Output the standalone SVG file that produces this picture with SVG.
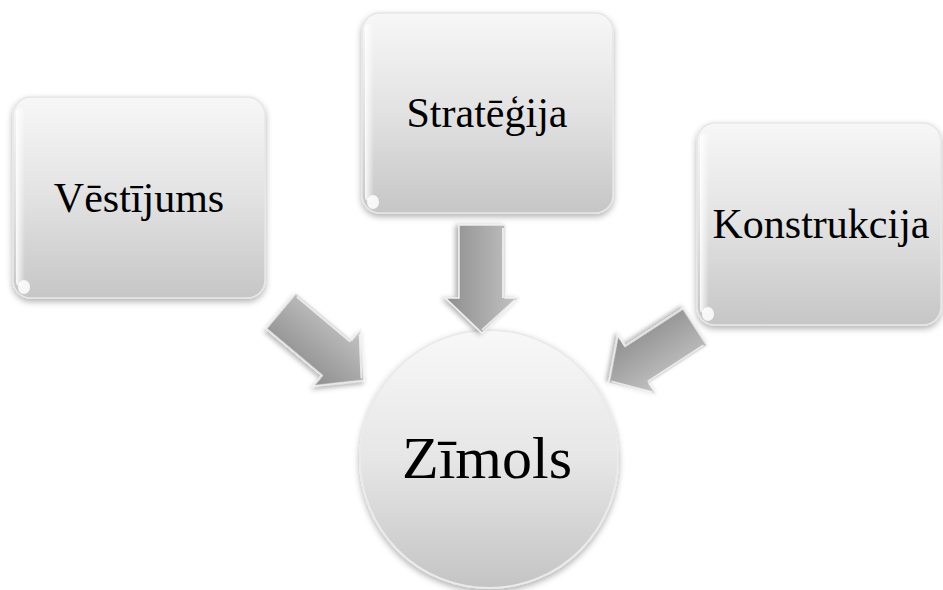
<svg xmlns="http://www.w3.org/2000/svg" width="943" height="590" viewBox="0 0 943 590">
  <style>
    .box { fill: url(#boxGrad); stroke: #e6e6e6; stroke-width: 1.5; filter: url(#shadow); }
    .hl { fill: #ffffff; opacity: 0.85; }
    .lbl { font-family: "Liberation Serif", "Times New Roman", serif; font-size: 42px; fill: #000000; text-anchor: middle; }
    .big { font-size: 60px; }
    .arrow { fill: url(#arrowGrad); stroke: #eeeeee; stroke-width: 1.5; stroke-linejoin: miter; filter: url(#ashadow); }
    .bevel { fill: none; stroke: #ffffff; stroke-width: 2; opacity: 0.7; }
  </style>
  <defs>
    <linearGradient id="boxGrad" x1="0" y1="0" x2="0" y2="1">
      <stop offset="0" stop-color="#f7f7f7"/>
      <stop offset="0.5" stop-color="#e2e2e2"/>
      <stop offset="1" stop-color="#c6c6c6"/>
    </linearGradient>
    <linearGradient id="circGrad" x1="0" y1="0" x2="0" y2="1">
      <stop offset="0" stop-color="#f8f8f8"/>
      <stop offset="0.5" stop-color="#e6e6e6"/>
      <stop offset="1" stop-color="#c4c4c4"/>
    </linearGradient>
    <linearGradient id="edgeGrad" x1="0" y1="0" x2="1" y2="0">
      <stop offset="0" stop-color="#ffffff" stop-opacity="0.9"/>
      <stop offset="1" stop-color="#ffffff" stop-opacity="0"/>
    </linearGradient>
    <linearGradient id="arrowGrad" x1="0" y1="0" x2="0" y2="1">
      <stop offset="0" stop-color="#c4c4c4"/>
      <stop offset="0.5" stop-color="#a8a8a8"/>
      <stop offset="1" stop-color="#8e8e8e"/>
    </linearGradient>
    <filter id="shadow" x="-10%" y="-10%" width="120%" height="125%">
      <feDropShadow dx="0" dy="3" stdDeviation="3" flood-color="#000000" flood-opacity="0.3"/>
    </filter>
    <filter id="ashadow" x="-20%" y="-20%" width="140%" height="140%">
      <feDropShadow dx="1" dy="3" stdDeviation="2.5" flood-color="#000000" flood-opacity="0.3"/>
    </filter>
    <path id="arrowShape" d="M0,-23 L73,-23 L73,-36.5 L108,0 L73,36.5 L73,23 L0,23 Z"/>
  </defs>

  <g id="node-vestijums">
    <rect class="box" x="13" y="97" width="252" height="201" rx="18"/>
    <rect x="16" y="108" width="9" height="178" rx="4" fill="url(#edgeGrad)"/>
    <ellipse class="hl" cx="24" cy="287" rx="6" ry="7"/>
    <text class="lbl" x="139" y="212">Vēstījums</text>
  </g>

  <g id="node-strategija">
    <rect class="box" x="362" y="13" width="251" height="200" rx="18"/>
    <rect x="365" y="24" width="9" height="177" rx="4" fill="url(#edgeGrad)"/>
    <ellipse class="hl" cx="373" cy="202" rx="6" ry="7"/>
    <text class="lbl" x="487" y="127">Stratēģija</text>
  </g>

  <g id="node-konstrukcija">
    <rect class="box" x="697" y="123" width="244" height="202" rx="18"/>
    <rect x="700" y="134" width="9" height="179" rx="4" fill="url(#edgeGrad)"/>
    <ellipse class="hl" cx="708" cy="314" rx="6" ry="7"/>
    <text class="lbl" x="821" y="238">Konstrukcija</text>
  </g>

  <g id="node-zimols">
    <circle cx="489" cy="459" r="129" fill="url(#circGrad)" stroke="#eaeaea" stroke-width="2" filter="url(#shadow)"/>
    <text class="lbl big" x="487" y="478">Zīmols</text>
  </g>

  <g id="connectors">
    <g transform="translate(482,225) rotate(90)">
      <use href="#arrowShape" class="arrow"/>
      <path class="bevel" d="M3,-21 L73,-21 M75,-33 L105,0"/>
    </g>
    <g transform="translate(281,311) rotate(40)">
      <use href="#arrowShape" class="arrow"/>
      <path class="bevel" d="M3,-21 L73,-21 M75,-33 L105,0"/>
    </g>
    <g transform="translate(695,327) rotate(147) scale(0.95)">
      <use href="#arrowShape" class="arrow"/>
      <path class="bevel" d="M3,-21 L73,-21 M75,-33 L105,0"/>
    </g>
  </g>
</svg>
